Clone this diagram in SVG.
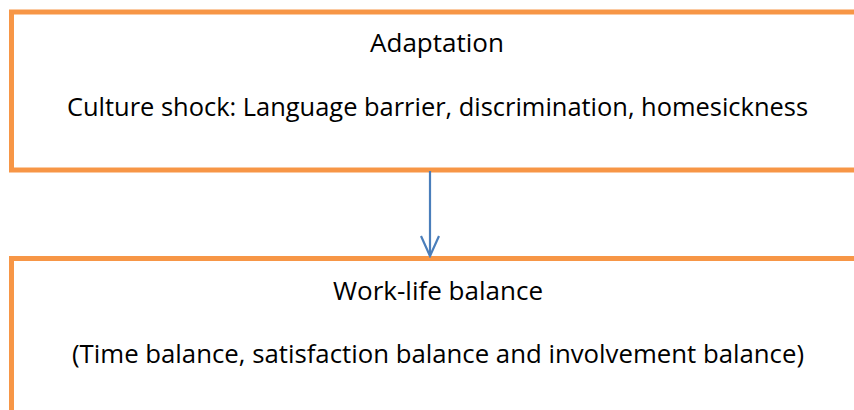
<svg xmlns="http://www.w3.org/2000/svg" width="854" height="410" viewBox="0 0 854 410">
<defs>
<style>
.box{fill:#FFFFFF;stroke:#F79646;stroke-width:5}
.t{font-family:"Open Sans","Liberation Sans",sans-serif;font-size:25px;fill:#000000;text-anchor:middle}
.conn{stroke:#4A7EBB;stroke-width:2.2;fill:none}
</style>
<marker id="arr" viewBox="0 0 24 20" refX="22" refY="10" markerWidth="24" markerHeight="20" markerUnits="userSpaceOnUse" orient="auto">
<path d="M2,1 L22,10 L2,19" fill="none" stroke="#4A7EBB" stroke-width="2.2"/>
</marker>
</defs>
<rect width="854" height="410" fill="#FFFFFF"/>
<g id="adaptation">
<rect class="box" x="11.5" y="12" width="860" height="158"/>
<text class="t" x="437" y="52" textLength="134" lengthAdjust="spacingAndGlyphs">Adaptation</text>
<text class="t" x="437.5" y="116" textLength="741" lengthAdjust="spacingAndGlyphs">Culture shock: Language barrier, discrimination, homesickness</text>
</g>
<g id="worklife">
<rect class="box" x="11.5" y="258.5" width="860" height="200"/>
<text class="t" x="438" y="300" textLength="210" lengthAdjust="spacingAndGlyphs">Work-life balance</text>
<text class="t" x="438" y="363" textLength="732" lengthAdjust="spacingAndGlyphs">(Time balance, satisfaction balance and involvement balance)</text>
</g>
<g id="connectors">
<line class="conn" x1="430" y1="171" x2="430" y2="256" marker-end="url(#arr)"/>
</g>
</svg>
